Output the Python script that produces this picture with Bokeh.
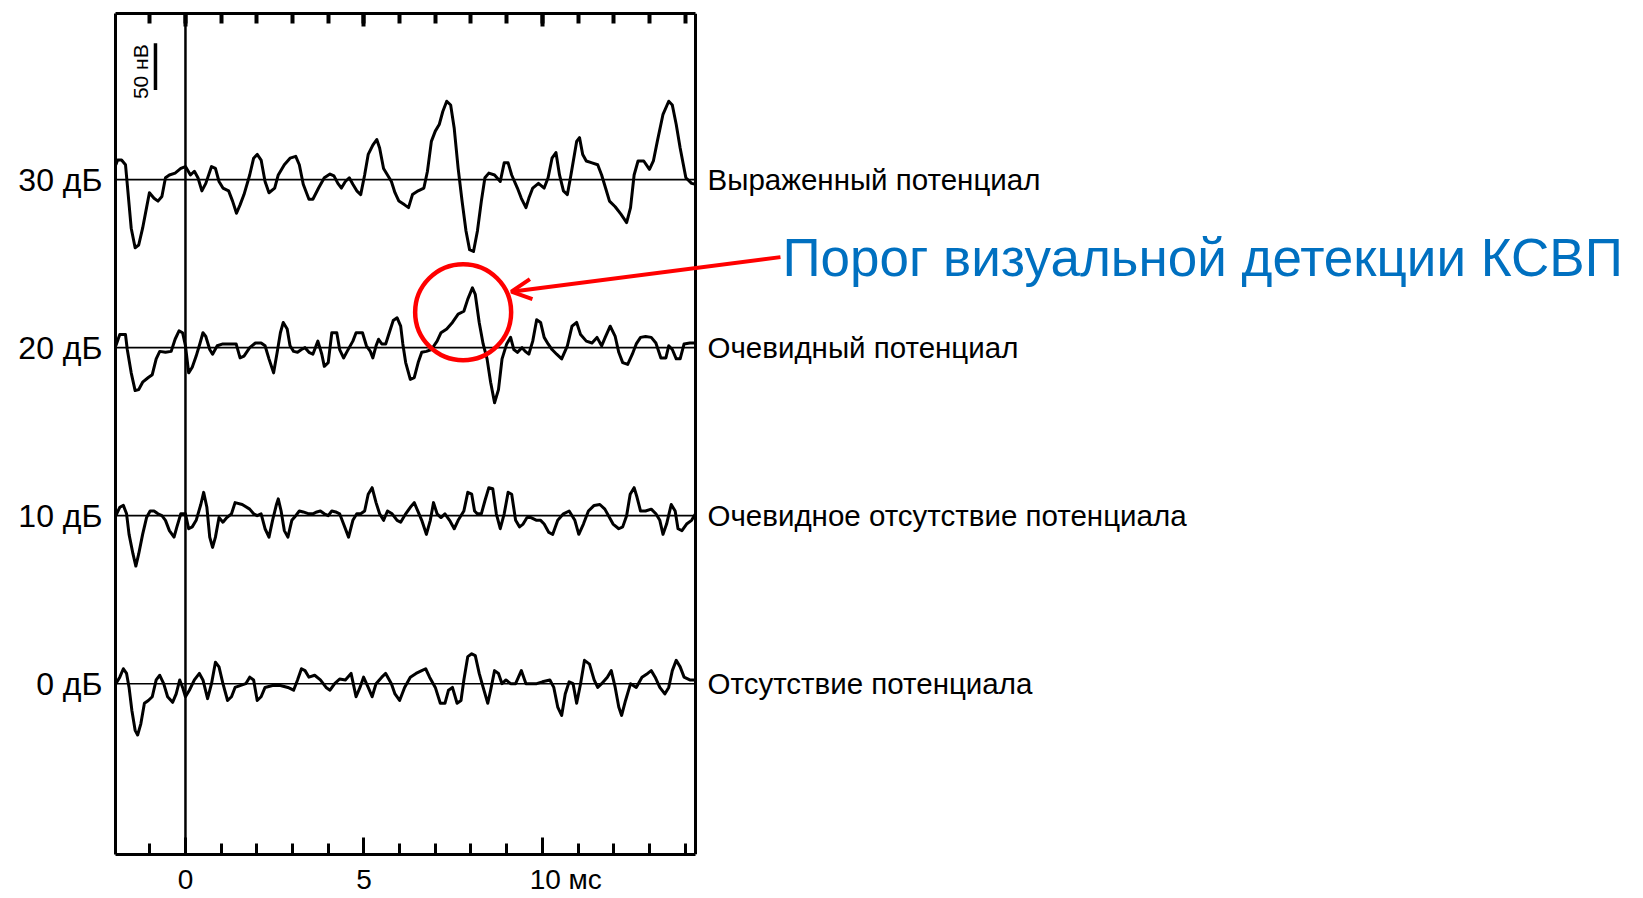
import numpy as np
from bokeh.plotting import figure
from bokeh.models import (Range1d, FixedTicker, Span, Label, Arrow, OpenHead,
                          LinearAxis, ColumnDataSource)
from bokeh.embed import file_html
from bokeh.resources import INLINE

# ---- averaged responses: time (ms) and amplitude (nV) for each stimulus level ----
t_30 = [-1.95, -1.90, -1.79, -1.68, -1.63, -1.52, -1.41, -1.31, -1.20, -1.09,
        -1.01, -0.88, -0.77, -0.66, -0.56, -0.45, -0.29, -0.13, 0.00, 0.14,
        0.25, 0.35, 0.46, 0.57, 0.73, 0.84, 0.94, 1.05, 1.21, 1.32,
        1.43, 1.53, 1.64, 1.80, 1.91, 2.01, 2.12, 2.23, 2.34, 2.50,
        2.60, 2.77, 2.93, 3.09, 3.19, 3.30, 3.46, 3.57, 3.73, 3.89,
        4.05, 4.16, 4.27, 4.37, 4.48, 4.59, 4.69, 4.80, 4.91, 5.02,
        5.12, 5.25, 5.36, 5.44, 5.55, 5.66, 5.77, 5.87, 5.98, 6.14,
        6.25, 6.36, 6.52, 6.68, 6.78, 6.89, 7.00, 7.11, 7.21, 7.32,
        7.43, 7.53, 7.64, 7.75, 7.86, 7.96, 8.07, 8.18, 8.29, 8.39,
        8.50, 8.66, 8.82, 8.93, 9.04, 9.14, 9.30, 9.41, 9.54, 9.62,
        9.73, 9.89, 10.05, 10.16, 10.27, 10.38, 10.48, 10.59, 10.70, 10.80,
        10.96, 11.04, 11.13, 11.23, 11.39, 11.55, 11.66, 11.77, 11.88, 12.04,
        12.20, 12.36, 12.47, 12.57, 12.68, 12.84, 13.00, 13.11, 13.22, 13.38,
        13.54, 13.64, 13.75, 13.86, 14.02, 14.18, 14.29]
v_30 = [16, 21, 21, 16, -5, -52, -73, -70, -52, -30,
        -14, -20, -23, -18, 2, 5, 7, 12, 14, 5,
        9, 2, -12, -4, 14, 12, -2, -9, -12, -23,
        -36, -27, -16, 5, 23, 27, 21, -2, -14, -9,
        5, 16, 23, 25, 16, -5, -21, -21, -9, 2,
        6, 4, -4, -9, -2, 2, -5, -12, -16, 5,
        27, 37, 43, 34, 12, 5, -2, -14, -23, -27,
        -30, -16, -12, -9, 9, 41, 52, 59, 73, 84,
        80, 55, 12, -23, -55, -75, -77, -55, -23, 2,
        7, 5, -2, 18, 18, 5, -9, -20, -30, -20,
        -9, -4, -9, 2, 23, 29, 5, -12, -16, 5,
        41, 45, 27, 20, 18, 16, 5, -9, -23, -29,
        -37, -46, -30, 5, 20, 20, 11, 20, 41, 70,
        84, 80, 59, 34, 2, -4, -5]

t_20 = [-1.95, -1.84, -1.68, -1.63, -1.52, -1.41, -1.31, -1.20, -1.04, -0.93,
        -0.82, -0.72, -0.56, -0.40, -0.29, -0.18, -0.08, 0.00, 0.09, 0.19,
        0.30, 0.41, 0.49, 0.57, 0.68, 0.76, 0.89, 1.05, 1.26, 1.42,
        1.53, 1.64, 1.80, 1.96, 2.12, 2.23, 2.34, 2.47, 2.57, 2.66,
        2.74, 2.85, 2.93, 3.03, 3.14, 3.25, 3.35, 3.46, 3.57, 3.71,
        3.82, 3.89, 4.00, 4.10, 4.24, 4.32, 4.43, 4.53, 4.69, 4.78,
        4.96, 5.07, 5.18, 5.25, 5.34, 5.41, 5.50, 5.61, 5.71, 5.82,
        5.93, 6.03, 6.09, 6.17, 6.30, 6.41, 6.52, 6.62, 6.75, 6.89,
        7.05, 7.16, 7.32, 7.48, 7.64, 7.80, 7.91, 8.04, 8.12, 8.23,
        8.34, 8.45, 8.55, 8.66, 8.77, 8.87, 9.00, 9.11, 9.20, 9.30,
        9.43, 9.52, 9.62, 9.73, 9.84, 9.95, 10.05, 10.16, 10.27, 10.40,
        10.54, 10.70, 10.83, 10.96, 11.07, 11.23, 11.39, 11.53, 11.66, 11.76,
        11.90, 12.04, 12.14, 12.25, 12.39, 12.52, 12.63, 12.75, 12.89, 13.05,
        13.18, 13.32, 13.46, 13.54, 13.64, 13.75, 13.86, 13.97, 14.13, 14.29]
v_20 = [2, 14, 14, -2, -27, -46, -45, -37, -32, -29,
        -12, -4, -5, -4, 9, 18, 16, 2, -27, -21,
        -9, 5, 16, 12, -2, -7, 2, 4, 4, 4,
        -11, -9, 0, 5, 5, 2, -12, -27, -5, 16,
        27, 20, 2, -4, -5, -2, 0, -5, -7, 7,
        -7, -20, -16, 16, 16, -2, -11, -4, 7, 16,
        16, 2, -4, -11, 2, 9, 4, 4, 16, 29,
        32, 23, 4, -16, -34, -32, -16, -5, -4, -2,
        7, 16, 20, 27, 36, 39, 52, 64, 57, 27,
        4, -12, -37, -59, -45, -12, 4, 11, -2, -5,
        0, -4, -7, 7, 30, 27, 11, 4, -2, -7,
        -12, 2, 23, 27, 14, 7, 5, 11, 2, 11,
        23, 12, -5, -16, -18, -7, 4, 11, 12, 11,
        5, -11, -11, 2, -2, -12, -12, 4, 5, 5]

t_10 = [-1.95, -1.84, -1.74, -1.65, -1.58, -1.47, -1.39, -1.31, -1.20, -1.09,
        -0.99, -0.88, -0.77, -0.66, -0.56, -0.45, -0.32, -0.24, -0.13, 0.00,
        0.09, 0.19, 0.30, 0.43, 0.51, 0.60, 0.68, 0.76, 0.84, 0.94,
        1.05, 1.16, 1.29, 1.39, 1.59, 1.80, 1.91, 2.01, 2.12, 2.23,
        2.34, 2.44, 2.55, 2.60, 2.68, 2.77, 2.87, 2.98, 3.09, 3.19,
        3.30, 3.46, 3.57, 3.68, 3.78, 3.89, 4.00, 4.10, 4.21, 4.32,
        4.43, 4.57, 4.69, 4.80, 4.91, 5.02, 5.12, 5.23, 5.34, 5.44,
        5.55, 5.66, 5.79, 5.93, 6.03, 6.17, 6.30, 6.41, 6.52, 6.62,
        6.75, 6.86, 6.95, 7.05, 7.16, 7.27, 7.40, 7.53, 7.64, 7.80,
        7.91, 8.02, 8.10, 8.18, 8.29, 8.39, 8.50, 8.61, 8.71, 8.82,
        8.93, 9.04, 9.14, 9.25, 9.36, 9.46, 9.57, 9.68, 9.84, 9.95,
        10.05, 10.18, 10.29, 10.43, 10.59, 10.75, 10.91, 11.02, 11.15, 11.29,
        11.45, 11.61, 11.75, 11.88, 11.98, 12.14, 12.25, 12.36, 12.46, 12.57,
        12.65, 12.75, 12.89, 13.05, 13.18, 13.29, 13.38, 13.48, 13.61, 13.72,
        13.80, 13.91, 14.04, 14.18, 14.29]
v_10 = [0, 9, 11, 2, -20, -41, -54, -41, -20, -2,
        5, 5, 2, 0, -5, -16, -23, -12, 2, 2,
        -14, -12, -5, 12, 25, 9, -23, -34, -23, -2,
        -7, -2, 2, 14, 12, 7, 2, 0, 2, -14,
        -23, -5, 12, 18, 5, -16, -23, -5, 0, 5,
        4, 2, 2, 4, 5, 2, 0, 5, 4, 2,
        -9, -23, -5, 2, 2, 5, 23, 30, 14, 2,
        -5, 5, 2, -5, -7, 2, 9, 14, 4, -5,
        -20, -5, 14, 2, -2, 2, -5, -14, -5, 5,
        25, 23, 5, 2, 2, 16, 30, 29, 2, -14,
        2, 25, 23, -5, -12, -9, -2, -2, -5, -5,
        -9, -18, -20, -5, 2, 5, -5, -20, -9, 5,
        11, 12, 7, -2, -9, -14, -12, 0, 23, 30,
        20, 5, 5, 7, 2, -5, -20, -9, 12, 5,
        -14, -16, -9, -5, 2]

t_0 = [-1.95, -1.84, -1.74, -1.65, -1.58, -1.50, -1.41, -1.34, -1.25, -1.15,
       -1.04, -0.93, -0.82, -0.72, -0.61, -0.50, -0.36, -0.26, -0.16, -0.08,
       0.00, 0.11, 0.25, 0.39, 0.49, 0.62, 0.73, 0.84, 0.94, 1.05,
       1.18, 1.29, 1.39, 1.53, 1.69, 1.80, 1.91, 2.01, 2.12, 2.23,
       2.44, 2.66, 2.87, 3.03, 3.14, 3.25, 3.35, 3.46, 3.62, 3.78,
       3.94, 4.05, 4.18, 4.32, 4.48, 4.64, 4.78, 4.89, 4.99, 5.12,
       5.23, 5.34, 5.50, 5.61, 5.77, 5.87, 6.00, 6.14, 6.30, 6.46,
       6.62, 6.73, 6.84, 7.00, 7.14, 7.27, 7.37, 7.48, 7.61, 7.72,
       7.80, 7.91, 8.02, 8.12, 8.23, 8.34, 8.47, 8.55, 8.66, 8.77,
       8.87, 8.98, 9.11, 9.25, 9.41, 9.54, 9.68, 9.84, 10.00, 10.21,
       10.32, 10.43, 10.54, 10.64, 10.75, 10.86, 10.96, 11.07, 11.18, 11.32,
       11.45, 11.55, 11.66, 11.82, 11.93, 12.04, 12.14, 12.22, 12.33, 12.47,
       12.63, 12.79, 12.95, 13.05, 13.16, 13.29, 13.43, 13.54, 13.64, 13.75,
       13.86, 13.97, 14.13, 14.29]
v_0 = [0, 7, 16, 11, -4, -29, -50, -55, -43, -21,
       -18, -14, 4, 9, 0, -14, -20, -11, 4, -4,
       -14, -7, 4, 11, 4, -16, 0, 23, 18, 0,
       -18, -14, -4, -2, 0, 7, 4, -18, -14, -4,
       -2, -2, -4, -7, 4, 16, 14, 7, 9, 4,
       -4, -7, 0, 5, 4, 11, -14, -4, 7, -4,
       -14, 0, 7, 11, 0, -11, -18, -4, 7, 11,
       14, 16, 7, -4, -21, -21, -7, -4, -21, -18,
       4, 29, 32, 30, 11, -4, -21, -7, 14, 11,
       0, 4, 0, 0, 14, 0, 0, 0, 2, 4,
       -4, -25, -34, -11, 2, 0, -21, 0, 25, 21,
       4, -4, 0, 7, 14, -4, -25, -34, -18, 0,
       -4, 7, 11, 14, 7, -4, -11, -4, 14, 25,
       18, 7, 4, 4]

# stimulus levels, vertical placement of each trace (nV) and verdicts
levels = ["0 дБ", "10 дБ", "20 дБ", "30 дБ"]
level_offsets = [0, 180, 360, 540]
verdicts = ["Отсутствие потенциала", "Очевидное отсутствие потенциала",
            "Очевидный потенциал", "Выраженный потенциал"]
traces = [(t_0, v_0), (t_10, v_10), (t_20, v_20), (t_30, v_30)]

# scale bar and the highlighted wave on the 20 dB trace
scale_bar_nv = 50
scale_bar_t = -0.84
scale_bar_top = 686
threshold_t, threshold_v = 7.78, 38          # centre of the marked wave (relative to 20 dB row)
callout_text = "Порог визуальной детекции КСВП"
callout_t, callout_v = 16.67, 97             # start of the pointer (relative to 20 dB row)
arrow_tip_t, arrow_tip_v = 9.13, 60

# recording window (ms) and amplitude window (nV) of the framed panel
T0, T1 = -1.96, 14.29
Y0, Y1 = -183, 718
VIEW_END = 40.85          # free space right of the panel holds the verdicts and callout
FONT = "Liberation Sans"
RED = "#FF0000"
BLUE = "#0070C0"

p = figure(width=1643, height=898, output_backend="svg", toolbar_location=None,
           x_range=Range1d(T0, VIEW_END), y_range=Range1d(Y0, Y1),
           x_axis_location=None, y_axis_location=None,
           min_border_left=115, min_border_right=0,
           min_border_top=13, min_border_bottom=44)
p.grid.visible = False
p.outline_line_color = None
p.background_fill_color = "white"
p.border_fill_color = "white"

ms_ticker = FixedTicker(ticks=[0, 5, 10], minor_ticks=list(range(-1, 15)))

# time axis below (its line is the panel's bottom edge)
xb = LinearAxis(ticker=ms_ticker, bounds=(T0, T1),
                axis_line_color="black", axis_line_width=3,
                major_tick_in=17, major_tick_out=0, major_tick_line_width=3,
                minor_tick_in=11, minor_tick_out=0, minor_tick_line_width=3,
                major_label_overrides={10: "\u2007\u2007\u200710 мс"},
                major_label_text_font=FONT, major_label_text_font_size="28px",
                major_label_text_color="black", major_label_standoff=9)
p.add_layout(xb, "below")

# tick-only copy along the top edge
xt = LinearAxis(ticker=ms_ticker, bounds=(T0, T1),
                axis_line_color="black", axis_line_width=3,
                major_tick_in=13, major_tick_out=0, major_tick_line_width=4,
                minor_tick_in=10, minor_tick_out=0, minor_tick_line_width=4,
                major_label_text_font_size="1px", major_label_text_color=None,
                major_label_standoff=0)
p.add_layout(xt, "above")

# level axis on the left (its line is the panel's left edge)
yl = LinearAxis(ticker=FixedTicker(ticks=level_offsets),
                axis_line_color="black", axis_line_width=3,
                major_tick_in=0, major_tick_out=0,
                major_label_overrides={o: lab for o, lab in zip(level_offsets, levels)},
                major_label_text_font=FONT, major_label_text_font_size="32px",
                major_label_text_color="black", major_label_standoff=13)
p.add_layout(yl, "left")

# right edge of the panel and stimulus onset
p.add_layout(Span(location=T1, dimension="height", line_color="black", line_width=3))
p.add_layout(Span(location=0, dimension="height", line_color="black", line_width=2.5))

# baselines, traces and verdicts
p.segment(x0=[T0] * len(level_offsets), y0=level_offsets,
          x1=[T1] * len(level_offsets), y1=level_offsets,
          line_color="black", line_width=1.6)
for off, (t, v), verdict in zip(level_offsets, traces, verdicts):
    src = ColumnDataSource(dict(t=t, y=np.asarray(v, dtype=float) + off))
    p.line("t", "y", source=src, line_color="black", line_width=3, line_join="round")
    p.add_layout(Label(x=T1, y=off, text=verdict, x_offset=12,
                       text_align="left", text_baseline="middle",
                       text_font=FONT, text_font_size="29.5px", text_color="black"))

# amplitude scale bar
p.segment(x0=[scale_bar_t], y0=[scale_bar_top - scale_bar_nv],
          x1=[scale_bar_t], y1=[scale_bar_top], line_color="black", line_width=3.5)
p.add_layout(Label(x=scale_bar_t, y=scale_bar_top - scale_bar_nv / 2,
                   x_offset=-15, y_offset=-5,
                   text=f"{scale_bar_nv} нВ", angle=np.pi / 2,
                   text_align="center", text_baseline="middle",
                   text_font=FONT, text_font_size="21px", text_color="black"))

# marked threshold wave with callout
row20 = level_offsets[2]
p.scatter(x=[threshold_t], y=[row20 + threshold_v], marker="circle", size=96,
          fill_color=None, line_color=RED, line_width=4.5)
p.add_layout(Arrow(x_start=callout_t, y_start=row20 + callout_v,
                   x_end=arrow_tip_t, y_end=row20 + arrow_tip_v,
                   line_color=RED, line_width=4,
                   end=OpenHead(size=20, line_color=RED, line_width=4)))
p.add_layout(Label(x=callout_t, y=row20 + callout_v, x_offset=2, text=callout_text,
                   text_align="left", text_baseline="middle",
                   text_font=FONT, text_font_size="53px", text_color=BLUE))

open("out.html", "w").write(file_html(p, INLINE))
